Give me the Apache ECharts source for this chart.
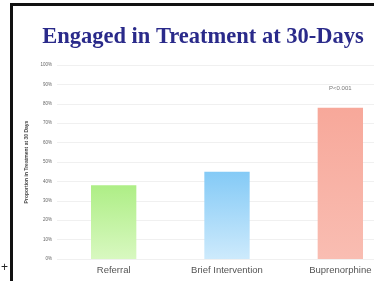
<!DOCTYPE html>
<html>
<head>
<meta charset="utf-8">
<script src="https://cdn.jsdelivr.net/npm/echarts@6/dist/echarts.min.js"></script>
<style>
	html, body { margin: 0; padding: 0; background: #fff; }
	#chart { width: 374px; height: 281px; }
</style>
</head>
<body>
<div id="chart"></div>
<script>
const categories = [ "Referral", "Brief Intervention", "Buprenorphine" ];
const values = [ 38, 45, 78 ];
const notes = [ "", "", "P<0.001" ];
const barTop = [ "#aeee86", "#84caf6", "#f7a89a" ];
const barBottom = [ "#d8f8c0", "#cdeafc", "#f9bdb2" ];

const chart = echarts.init( document.getElementById( "chart" ) );

const data = values.map( ( v, i ) => ( {
	value: v,
	itemStyle: {
		color: new echarts.graphic.LinearGradient( 0, 0, 0, 1, [
			{ offset: 0, color: barTop[i] },
			{ offset: 1, color: barBottom[i] }
		] )
	},
	label: {
		show: notes[i] !== "",
		formatter: notes[i],
		position: "top",
		distance: 16,
		color: "#777",
		fontSize: 6,
		fontFamily: "Liberation Sans"
	}
} ) );

chart.setOption( {
	animation: false,
	backgroundColor: "#fff",
	title: {
		text: "Engaged in Treatment at 30-Days",
		left: 198,
		top: 21,
		textAlign: "center",
		textStyle: {
			fontFamily: "Liberation Serif",
			fontWeight: "bold",
			fontSize: 22.5,
			color: "#2a2a8a"
		}
	},
	graphic: [
		{ type: "rect", shape: { x: 10, y: 3, width: 3, height: 278 }, style: { fill: "#111" } },
		{ type: "rect", shape: { x: 10, y: 3, width: 364, height: 3 }, style: { fill: "#111" } },
		{ type: "text", left: 1, top: 262, style: { text: "+", fontSize: 12, fill: "#222", fontFamily: "Liberation Sans" } }
	],
	grid: { left: 57, top: 65, width: 340, bottom: 22, outerBoundsMode: "none", containLabel: false },
	xAxis: {
		type: "category",
		data: categories,
		axisLine: { show: false },
		axisTick: { show: false },
		axisLabel: {
			color: "#555",
			fontSize: 9.5,
			margin: 6,
			fontFamily: "Liberation Sans",
			interval: 0,
			hideOverlap: false
		}
	},
	yAxis: {
		type: "value",
		min: 0,
		max: 100,
		interval: 10,
		name: "Proportion in Treatment at 30 Days",
		nameLocation: "middle",
		nameGap: 10,
		nameRotate: 90,
		nameTextStyle: { fontSize: 5, fontWeight: "bold", color: "#444", fontFamily: "Liberation Sans" },
		axisLine: { show: false },
		axisTick: { show: false },
		axisLabel: {
			formatter: "{value}%",
			fontSize: 4.5,
			color: "#666",
			margin: 5,
			fontFamily: "Liberation Sans"
		},
		splitLine: { lineStyle: { color: "#f0f0f0", width: 1 } }
	},
	series: [ {
		type: "bar",
		barWidth: "40%",
		data
	} ]
} );
</script>
</body>
</html>
